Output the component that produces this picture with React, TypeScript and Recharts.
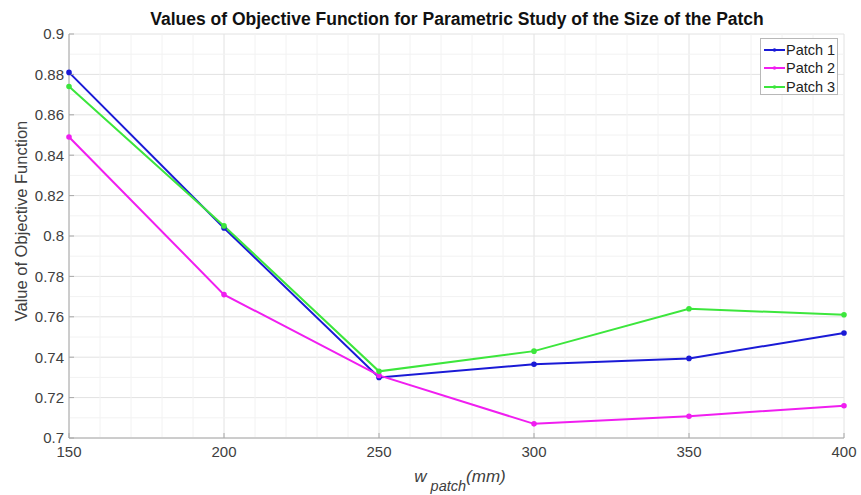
import React from 'react';
import { LineChart, Line, XAxis, YAxis, CartesianGrid, ReferenceLine } from 'recharts';

const widths = [150, 200, 250, 300, 350, 400];
const patch1 = [0.881, 0.804, 0.730, 0.7365, 0.7394, 0.752];
const patch2 = [0.849, 0.771, 0.731, 0.707, 0.7108, 0.716];
const patch3 = [0.874, 0.805, 0.733, 0.743, 0.764, 0.761];
const xTicks = [150, 200, 250, 300, 350, 400];
const yTicks = [0.7, 0.72, 0.74, 0.76, 0.78, 0.8, 0.82, 0.84, 0.86, 0.88, 0.9];
const xMinor = [160, 170, 180, 190, 210, 220, 230, 240, 260, 270, 280, 290, 310, 320, 330, 340, 360, 370, 380, 390];
const yMinor = [0.71, 0.73, 0.75, 0.77, 0.79, 0.81, 0.83, 0.85, 0.87, 0.89];

const seriesNames = ['Patch 1', 'Patch 2', 'Patch 3'];
const colors = ['#1a1ad6', '#f01ef0', '#3ce63c'];

const data = widths.map((w, i) => ({ w, p1: patch1[i], p2: patch2[i], p3: patch3[i] }));

const FONT = '"Liberation Sans", Arial, sans-serif';

const fmt = (v: number) => String(Number(v.toFixed(2)));

const LegendBox = () => (
  <div
    style={{
      position: 'absolute',
      left: 760,
      top: 38,
      width: 78,
      height: 57,
      boxSizing: 'border-box',
      border: '1px solid #b8b8b8',
      background: '#fff',
      paddingTop: 2,
      fontFamily: FONT,
      fontSize: 14.5,
      color: '#222',
    }}
  >
    {seriesNames.map((n, i) => (
      <div key={n} style={{ display: 'flex', alignItems: 'center', height: 18.3 }}>
        <svg width={24} height={10} style={{ marginLeft: 1 }}>
          <line x1={2} y1={5} x2={23} y2={5} stroke={colors[i]} strokeWidth={2} />
          <circle cx={12.5} cy={5} r={1.8} fill={colors[i]} />
        </svg>
        <span style={{ whiteSpace: 'nowrap' }}>{n}</span>
      </div>
    ))}
  </div>
);

export default function App() {
  return (
    <div style={{ position: 'absolute', left: 0, top: 0, width: 861, height: 495, background: '#fff', fontFamily: FONT }}>
      <LineChart width={861} height={495} data={data} margin={{ top: 34, right: 17, bottom: 0, left: 0 }}>
        {xMinor.map((v) => (
          <ReferenceLine key={'xm' + v} x={v} stroke="#f2f2f2" strokeWidth={1} />
        ))}
        {yMinor.map((v) => (
          <ReferenceLine key={'ym' + v} y={v} stroke="#f2f2f2" strokeWidth={1} />
        ))}
        <CartesianGrid stroke="#e2e2e2" strokeWidth={1} />
        <XAxis
          dataKey="w"
          type="number"
          domain={[150, 400]}
          ticks={xTicks}
          height={57}
          tick={{ fontSize: 15, fill: '#404040', fontFamily: FONT }}
          axisLine={{ stroke: '#a8a8a8' }}
          tickLine={{ stroke: '#a8a8a8' }}
          tickSize={-5}
          tickMargin={13}
        />
        <XAxis xAxisId="top" orientation="top" dataKey="w" type="number" domain={[150, 400]} ticks={xTicks} height={0} tick={false} axisLine={{ stroke: '#a8a8a8' }} tickLine={false} />
        <YAxis
          type="number"
          domain={[0.7, 0.9]}
          ticks={yTicks}
          width={69}
          tickFormatter={fmt}
          tick={{ fontSize: 15, fill: '#404040', fontFamily: FONT }}
          axisLine={{ stroke: '#a8a8a8' }}
          tickLine={{ stroke: '#a8a8a8' }}
          tickSize={-5}
          tickMargin={10}
        />
        <YAxis yAxisId="right" orientation="right" type="number" domain={[0.7, 0.9]} ticks={yTicks} width={0} tick={false} axisLine={{ stroke: '#a8a8a8' }} tickLine={false} />
        <Line dataKey="p1" name="Patch 1" stroke={colors[0]} strokeWidth={2} dot={{ r: 1.8, fill: colors[0], stroke: colors[0] }} isAnimationActive={false} />
        <Line dataKey="p2" name="Patch 2" stroke={colors[1]} strokeWidth={2} dot={{ r: 1.8, fill: colors[1], stroke: colors[1] }} isAnimationActive={false} />
        <Line dataKey="p3" name="Patch 3" stroke={colors[2]} strokeWidth={2} dot={{ r: 1.8, fill: colors[2], stroke: colors[2] }} isAnimationActive={false} />
      </LineChart>
      <LegendBox />
      <svg width={861} height={495} style={{ position: 'absolute', left: 0, top: 0, pointerEvents: 'none' }}>
        <text x={457} y={25} textAnchor="middle" fontFamily={FONT} fontWeight="bold" fontSize={17.5} fill="#111">
          Values of Objective Function for Parametric Study of the Size of the Patch
        </text>
        <text
          x={21}
          y={221}
          textAnchor="middle"
          dominantBaseline="central"
          fontFamily={FONT}
          fontSize={16.5}
          fill="#404040"
          transform="rotate(-90 21 221)"
        >
          Value of Objective Function
        </text>
        <text x={460} y={482} textAnchor="middle" fontFamily={FONT} fontSize={17} fill="#404040" fontStyle="italic">
          <tspan>w</tspan>
          <tspan fontSize={14.5} dy={9}> patch</tspan>
          <tspan dy={-9}>(mm)</tspan>
        </text>
      </svg>
    </div>
  );
}
